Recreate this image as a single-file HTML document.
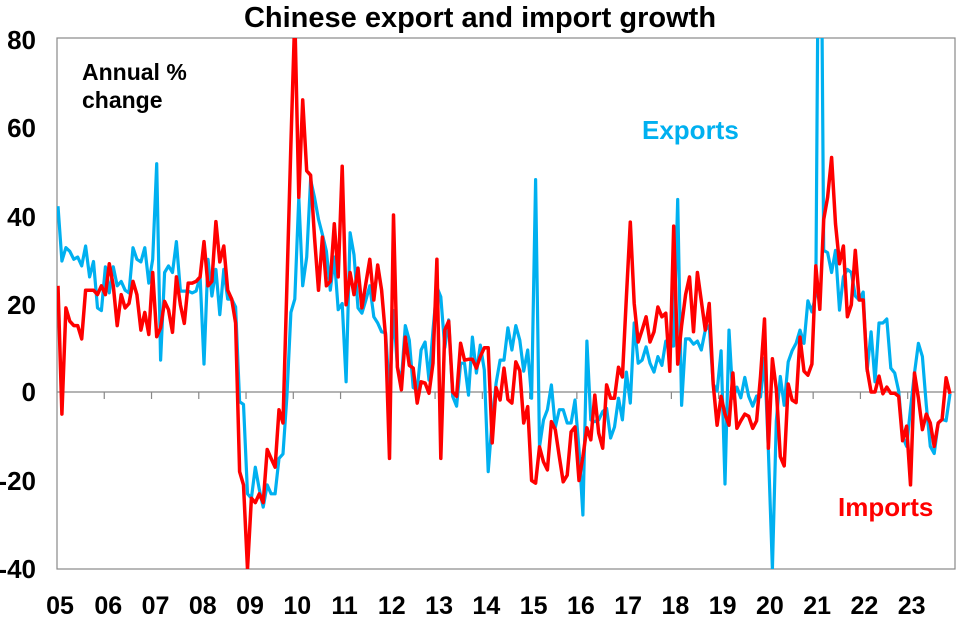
<!DOCTYPE html>
<html><head><meta charset="utf-8"><style>
html,body{margin:0;padding:0;background:#fff;}
svg{display:block;font-family:"Liberation Sans",Arial,sans-serif;font-weight:bold;}
</style></head><body>
<svg id="s" width="960" height="617" viewBox="0 0 960 617" xmlns="http://www.w3.org/2000/svg">
<defs><clipPath id="c"><rect x="57" y="38" width="898" height="531"/></clipPath></defs>
<text x="480" y="27" font-size="29" text-anchor="middle" fill="#000">Chinese export and import growth</text>
<g font-size="26" text-anchor="end" fill="#000">
<text x="36" y="49">80</text><text x="36" y="137">60</text><text x="36" y="226">40</text>
<text x="36" y="314">20</text><text x="36" y="401">0</text><text x="36" y="490">-20</text><text x="36" y="578">-40</text>
</g>
<g id="xl" font-size="25" text-anchor="middle" fill="#000"></g>
<rect x="57" y="38" width="898" height="531" fill="none" stroke="#888" stroke-width="1.2"/>
<line x1="57" y1="392" x2="955" y2="392" stroke="#888" stroke-width="1.2"/>
<g id="tk" stroke="#888" stroke-width="1.2"></g>
<g clip-path="url(#c)">
<path id="ex" fill="none" stroke="#00B0F0" stroke-width="3.2" stroke-linejoin="round"/>
<path id="im" fill="none" stroke="#FF0000" stroke-width="3.5" stroke-linejoin="round"/>
</g>
<text x="82" y="80" font-size="23" fill="#000">Annual %</text>
<text x="82" y="108" font-size="23" fill="#000">change</text>
<text x="642" y="139" font-size="26" fill="#00B0F0">Exports</text>
<text x="838" y="516" font-size="26" fill="#FF0000">Imports</text>
</svg>
<script>
var ex=[42,29.6,32.6,31.8,30,30.5,28.5,33,26,29.5,19,18.4,
28.3,22.4,28.3,24,25,23,22.4,32.6,30,29.4,32.6,24.6,
30,51.6,7.2,27,28.5,27,34,22.8,22.8,22.8,22.4,22.8,
26,6.3,30,21.7,27.7,17.5,27.7,21,21,19.2,-2.2,-2.8,
-23,-24,-17,-22,-26,-21,-23,-23,-15,-14,-1,18,
21,44,24,30.5,48,44,39,35.6,31.8,23,30.5,18.6,
20,2.3,36,31,19,17.8,20.8,24,17,15.6,13.6,13.4,
-0.5,18.4,5.6,2.7,15,11.7,1,0.5,9.5,11.3,2.7,14,
23.7,21.5,10,16.3,-1,-3.2,6.5,6.5,-0.7,12.4,4.3,10.6,
5,-18,-6.3,2,7.2,7.2,14.5,9.5,15,11.7,4.7,9.5,
-1.4,48,-12.4,-6.3,-4,1.6,-8,-4,-4,-7,-7,-1.8,
-13,-27.8,11.5,-6.3,-6.7,-6.3,-4.4,-3.7,-10.4,-7.9,-1.4,-6.3,
4.5,-2.5,15.6,6.5,7.2,10.2,6.5,4.5,8,6,11.5,10.4,
10.4,43.5,-3,12,12,10.8,11.5,9.5,14,15,1.8,0.2,
9.3,-20.8,14,-1.4,1.1,-1.3,3.3,-1,-3.2,-0.9,-1.1,7.6,
-13.4,-40,-6.6,3.5,-3,6.8,9.3,11,14,11,20.6,18.1,
22,150,32,31.5,27,32,18.5,26,27.7,27,21.7,20.8,
22.6,4.8,13.6,2.3,15.6,15.6,16.5,5.4,4.3,0.2,-10,-12.3,
-3.8,4.3,11,8,-3,-12.3,-13.9,-7,-6.2,-6.5,-0.4];
var im=[24,-5,19,16,15,15,12,23,23,23,22,24,
22,29,24,15,22,19,20,25,22,14,18,13,
27,12.5,14.5,20.5,18.6,13.5,26,19.7,15.5,24.6,24.6,25,
26,34,24,25,38.5,29.4,33,23,21,15.6,-18,-21,
-40,-24,-25,-23,-25,-13,-15,-17,-4,-7,24,56,
85,44,66,50,49,35,23,35,24,25,38,26,
51,19.7,27,22,28,19,24.6,30,20.8,28.7,23,12.4,
-15,40,5.6,0.5,12.4,6,5.4,-2.5,2.3,2,-0.3,6.5,
30,-15,14,16,0,-1,11,7.2,7.4,7.4,5.4,8,
10,10,-11.5,1,-1.8,5.4,-1.7,-2.5,6.8,4.8,-7,-3.3,
-20,-20.6,-12.4,-15.8,-17.6,-6.7,-8.5,-14.6,-20.3,-18.8,-9,-7.9,
-20,-14.6,-8.1,-10.8,-0.7,-9.3,-12.7,1.6,-1.4,-1.4,5.6,3.4,
21.5,38.4,20,11.3,14,17,11.3,13.6,19.2,17,17.8,4.7,
37.5,6.3,15,22,26,13.6,27,20.6,14,20,1.8,-7.5,
-1,-5,-7.5,4.3,-8.2,-6.5,-5,-5.5,-8.2,-6.5,3.5,16.5,
-12.7,7.5,0.7,-14.6,-16.7,1.8,-1.8,-2.4,12.4,4.7,3.8,6.3,
28.5,18.7,39,44,53,38,29,33,17,19.7,32,20.8,
20.8,5.2,0,0,3.6,-0.4,1.1,-0.3,-0.3,-1,-11,-7.7,-21,
4.3,-1.4,-8.5,-5,-7,-12.3,-7,-6.2,3.2,-0.4];
function mk(a){var n=a.length,d="";for(var i=0;i<n;i++){var x=58+i*(950-58)/(n-1);var y=392-a[i]*4.425;d+=(i?"L":"M")+x.toFixed(1)+" "+y.toFixed(1);}return d;}
document.getElementById("ex").setAttribute("d",mk(ex));
document.getElementById("im").setAttribute("d",mk(im));
var ns="http://www.w3.org/2000/svg",xl=document.getElementById("xl"),tk=document.getElementById("tk");
for(var k=0;k<19;k++){var x=57+k*47.26;
 if(k>0){var l=document.createElementNS(ns,"line");l.setAttribute("x1",x);l.setAttribute("x2",x);l.setAttribute("y1",392);l.setAttribute("y2",399);tk.appendChild(l);}
 var t=document.createElementNS(ns,"text");t.setAttribute("x",x+(k==0?3:4));t.setAttribute("y",614);t.textContent=(k+5<10?"0":"")+(k+5);xl.appendChild(t);}
</script>
</body></html>
